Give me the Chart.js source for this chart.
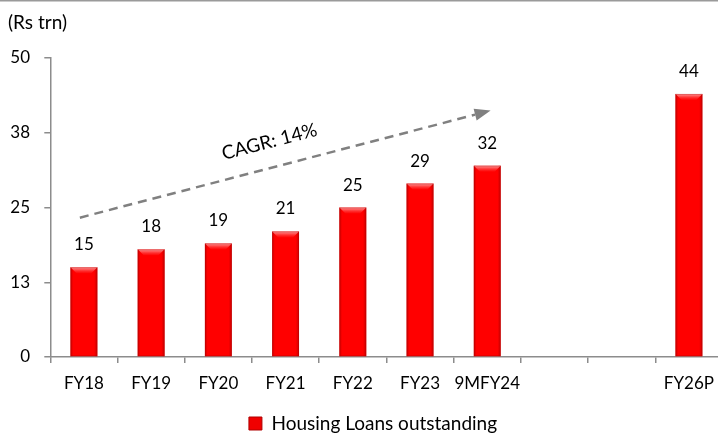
<!DOCTYPE html>
<html>
<head>
<meta charset="utf-8">
<script src="https://cdn.jsdelivr.net/npm/chart.js@4.4.1/dist/chart.umd.min.js"></script>
<style>
  html, body { margin: 0; padding: 0; background: #fff; overflow: hidden; }
  #wrap { position: relative; width: 724px; height: 436px; }
</style>
</head>
<body>
<div id="wrap"><canvas id="c"></canvas></div>
<script>
// Housing loans outstanding, Rs trn
const categories = ['FY18', 'FY19', 'FY20', 'FY21', 'FY22', 'FY23', '9MFY24', '', '', 'FY26P'];
const housingLoans = [15, 18, 19, 21, 25, 29, 32, null, null, 44];
const yTickValues = [0, 12.5, 25, 37.5, 50];
const seriesName = 'Housing Loans outstanding';
const unitLabel = '(Rs trn)';

// Growth arrow, in category-index / value units
const cagrText = 'CAGR: 14%';
const cagrStart = [-0.06, 23.3];
const cagrEnd = [6.05, 41.2];
const cagrTextAt = [2.76, 36.0];

const FONT = 'Lato, "Open Sans", sans-serif';
const AXIS_GREY = '#8c8c8c';

const framePlugin = {
  id: 'frame',
  beforeDraw(chart) {
    const ctx = chart.ctx;
    ctx.save();
    ctx.fillStyle = '#ffffff';
    ctx.fillRect(0, 0, chart.width, chart.height);
    ctx.fillStyle = '#9a9a9a';
    ctx.fillRect(0, 0, chart.width, 1.5);
    ctx.fillStyle = '#000';
    ctx.font = '19px ' + FONT;
    ctx.textAlign = 'left';
    ctx.textBaseline = 'middle';
    ctx.fillText(unitLabel, 8, 23);
    ctx.restore();
  }
};

// Nudge the legend so it sits under the plot, centred like the original layout
const legendNudgePlugin = {
  id: 'legendNudge',
  afterLayout(chart) {
    const lg = chart.legend;
    if (!lg) return;
    lg.left += 22;
    lg.top += 7;
    lg.bottom += 7;
  }
};

// Edge shading and top bevel on each bar, from the bar element geometry
const barShadePlugin = {
  id: 'barShade',
  afterDatasetsDraw(chart) {
    const ctx = chart.ctx;
    const meta = chart.getDatasetMeta(0);
    meta.data.forEach((bar, i) => {
      if (housingLoans[i] == null) return;
      const { x, y, base, width } = bar.getProps(['x', 'y', 'base', 'width'], true);
      const l = x - width / 2, r = x + width / 2;
      ctx.save();
      const g = ctx.createLinearGradient(l, 0, r, 0);
      g.addColorStop(0, 'rgba(140,0,0,0.45)');
      g.addColorStop(0.1, 'rgba(140,0,0,0.0)');
      g.addColorStop(0.88, 'rgba(140,0,0,0.0)');
      g.addColorStop(1, 'rgba(140,0,0,0.45)');
      ctx.fillStyle = g;
      ctx.fillRect(l, y, width, base - y);
      const b = 6;
      const tg = ctx.createLinearGradient(0, y, 0, y + b);
      tg.addColorStop(0, 'rgba(255,190,190,0.85)');
      tg.addColorStop(1, 'rgba(255,80,80,0.1)');
      ctx.fillStyle = tg;
      ctx.beginPath();
      ctx.moveTo(l, y);
      ctx.lineTo(r, y);
      ctx.lineTo(r - b, y + b);
      ctx.lineTo(l + b, y + b);
      ctx.closePath();
      ctx.fill();
      ctx.strokeStyle = 'rgba(170,0,0,0.35)';
      ctx.lineWidth = 1;
      ctx.strokeRect(l + 0.5, y + 0.5, width - 1, base - y - 1);
      ctx.restore();
    });
  }
};

const valueLabelPlugin = {
  id: 'valueLabels',
  afterDatasetsDraw(chart) {
    const ctx = chart.ctx;
    const meta = chart.getDatasetMeta(0);
    ctx.save();
    ctx.fillStyle = '#000';
    ctx.font = '17px ' + FONT;
    ctx.textAlign = 'center';
    ctx.textBaseline = 'alphabetic';
    meta.data.forEach((bar, i) => {
      const v = housingLoans[i];
      if (v == null) return;
      ctx.fillText(String(v), bar.x, bar.y - 17);
    });
    ctx.restore();
  }
};

const cagrPlugin = {
  id: 'cagrArrow',
  afterDatasetsDraw(chart) {
    const { ctx, scales: { x, y } } = chart;
    const x0 = x.getPixelForValue(cagrStart[0]), y0 = y.getPixelForValue(cagrStart[1]);
    const x1 = x.getPixelForValue(cagrEnd[0]), y1 = y.getPixelForValue(cagrEnd[1]);
    const ang = Math.atan2(y1 - y0, x1 - x0);
    const headLen = 16, headHalf = 6;
    const bx = x1 - headLen * Math.cos(ang), by = y1 - headLen * Math.sin(ang);
    ctx.save();
    ctx.strokeStyle = '#808080';
    ctx.fillStyle = '#808080';
    ctx.lineWidth = 2.5;
    ctx.setLineDash([9, 6]);
    ctx.beginPath();
    ctx.moveTo(x0, y0);
    ctx.lineTo(bx, by);
    ctx.stroke();
    ctx.setLineDash([]);
    ctx.beginPath();
    ctx.moveTo(x1, y1);
    ctx.lineTo(bx - headHalf * Math.sin(ang), by + headHalf * Math.cos(ang));
    ctx.lineTo(bx + headHalf * Math.sin(ang), by - headHalf * Math.cos(ang));
    ctx.closePath();
    ctx.fill();
    const tx = x.getPixelForValue(cagrTextAt[0]), ty = y.getPixelForValue(cagrTextAt[1]);
    ctx.translate(tx, ty);
    ctx.rotate(ang);
    ctx.fillStyle = '#000';
    ctx.font = '19px ' + FONT;
    ctx.textAlign = 'center';
    ctx.textBaseline = 'middle';
    ctx.fillText(cagrText, 0, 0);
    ctx.restore();
  }
};

new Chart(document.getElementById('c'), {
  type: 'bar',
  data: {
    labels: categories,
    datasets: [{
      label: seriesName,
      data: housingLoans,
      backgroundColor: '#ff0000',
      borderWidth: 0,
      barPercentage: 0.4,
      categoryPercentage: 1.0
    }]
  },
  options: {
    responsive: true,
    maintainAspectRatio: false,
    devicePixelRatio: 1,
    animation: false,
    layout: { padding: { left: 0, top: 58, right: 0, bottom: 0 } },
    scales: {
      x: {
        offset: true,
        border: { display: true, color: AXIS_GREY, width: 1.5 },
        grid: { display: true, drawOnChartArea: false, drawTicks: true, tickLength: 6, color: AXIS_GREY, lineWidth: 1.5, offset: true },
        ticks: { color: '#000', font: { family: FONT, size: 17 }, padding: 10, maxRotation: 0, autoSkip: false },
        afterFit(scale) { scale.height = 46; }
      },
      y: {
        min: 0,
        max: 50,
        border: { display: true, color: AXIS_GREY, width: 1.5 },
        grid: { display: true, drawOnChartArea: false, drawTicks: true, tickLength: 6, color: AXIS_GREY, lineWidth: 1.5 },
        afterBuildTicks(scale) { scale.ticks = yTickValues.map(v => ({ value: v })); },
        ticks: {
          color: '#000',
          font: { family: FONT, size: 17 },
          padding: 14.3,
          callback: v => String(Math.round(v))
        },
        afterFit(scale) { scale.width = 50.3; }
      }
    },
    plugins: {
      title: { display: false },
      tooltip: { enabled: false },
      legend: {
        position: 'bottom',
        labels: {
          color: '#000',
          font: { family: FONT, size: 19 },
          boxWidth: 13,
          boxHeight: 13,
          padding: 4,
          generateLabels: () => [{
            text: seriesName,
            fillStyle: '#f00000',
            strokeStyle: '#b00000',
            lineWidth: 1,
            hidden: false,
            datasetIndex: 0
          }]
        }
      }
    }
  },
  plugins: [framePlugin, legendNudgePlugin, barShadePlugin, valueLabelPlugin, cagrPlugin]
});
</script>
</body>
</html>
